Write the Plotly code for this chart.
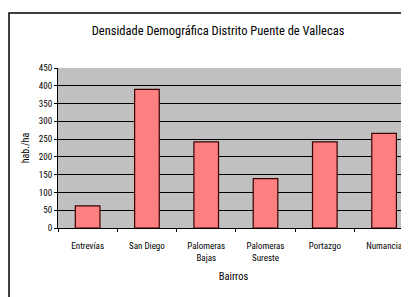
import plotly.graph_objects as go

categories = ["Entrevías", "San Diego", "Palomeras<br>Bajas", "Palomeras<br>Sureste", "Portazgo", "Numancia"]
densidad = [62, 390, 242, 139, 242, 266]
y_ticks = [0, 50, 100, 150, 200, 250, 300, 350, 400, 450]

FONT = "Roboto Condensed, DejaVu Sans Condensed, sans-serif"

# the page body has an 8px margin, so layout is offset by -8px
fig = go.Figure()
fig.add_trace(go.Bar(
    x=categories, y=densidad, width=0.415,
    marker=dict(color="#ff8080", line=dict(color="#3a0000", width=1.2)),
))

fig.update_layout(
    width=409, height=297,
    margin=dict(l=50, r=8, t=60, b=77),
    paper_bgcolor="white", plot_bgcolor="#c0c0c0",
    showlegend=False,
    font=dict(family=FONT, size=9, color="black"),
    title=dict(text="Densidade Demográfica Distrito Puente de Vallecas",
               x=210/409, xanchor="center", y=1-23/297, yanchor="middle",
               font=dict(family=FONT, size=12.5, color="black")),
)
fig.update_xaxes(
    range=[-0.5, 5.42], type="category",
    showline=True, linecolor="black", linewidth=1,
    ticks="outside", ticklen=3, tickcolor="black", tickson="boundaries",
    ticklabelstandoff=9,
    showgrid=False,
    title=dict(text="Bairros", font=dict(family=FONT, size=10.5), standoff=11),
    tickfont=dict(family=FONT, size=9),
)
fig.update_yaxes(
    range=[0, 450], tickvals=y_ticks, ticktext=[str(v) for v in y_ticks],
    showline=True, linecolor="black", linewidth=1,
    ticks="outside", ticklen=3, tickcolor="black",
    showgrid=True, gridcolor="black", gridwidth=1,
    zeroline=False,
    title=dict(text="hab./ha", font=dict(family=FONT, size=10), standoff=7),
    tickfont=dict(family=FONT, size=9),
)

# chart area border (extends beyond the visible window on right and bottom)
fig.add_shape(type="rect", xref="paper", yref="paper",
              x0=(1-50)/351, x1=1.1, y0=-0.5, y1=(220-5)/160,
              line=dict(color="black", width=1.5), fillcolor="rgba(0,0,0,0)", layer="below")

fig.write_html("out.html")
